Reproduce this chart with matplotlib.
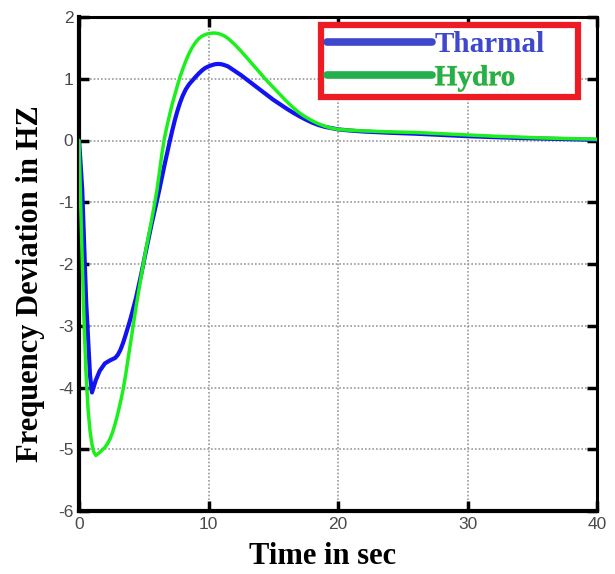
import matplotlib
matplotlib.use("Agg")
import matplotlib.pyplot as plt
from matplotlib.lines import Line2D
import matplotlib.patheffects as pe

plt.rcParams['axes.unicode_minus'] = False

# ---- data ----
time_s = [0, 0.1, 0.25, 0.4, 0.55, 0.7, 0.85, 1.0, 1.15, 1.3, 1.6, 2.0, 2.2,
          2.4, 2.6, 2.8, 3.0, 3.2, 3.4, 3.6, 3.8, 4.0, 4.4, 4.8, 5.2, 5.6, 6.0,
          6.2, 6.4, 6.6, 6.8, 7.0, 7.2, 7.4, 7.6, 7.8, 8.0, 8.25, 8.5, 8.75,
          9.0, 9.25, 9.5, 9.75, 10.0, 10.25, 10.5, 10.75, 11.0, 11.25, 11.5,
          12.0, 12.5, 13.0, 13.5, 14.0, 14.5, 15.0, 15.5, 16.0, 16.5, 17.0,
          17.5, 18.0, 18.5, 19.0, 19.5, 20.0, 21.0, 22.0, 24.0, 26.0, 28.0,
          30.0, 32.0, 34.0, 36.0, 38.0, 40.0]

thermal = [0, -0.3, -0.8, -1.7, -2.6, -3.2, -3.8, -4.08, -3.98, -3.88, -3.73,
           -3.61, -3.585, -3.56, -3.54, -3.52, -3.47, -3.39, -3.28, -3.15,
           -3.01, -2.87, -2.55, -2.17, -1.76, -1.36, -0.99, -0.8, -0.6, -0.4,
           -0.21, -0.02, 0.16, 0.33, 0.48, 0.61, 0.72, 0.83, 0.91, 0.97, 1.03,
           1.085, 1.135, 1.175, 1.20, 1.22, 1.235, 1.24, 1.235, 1.22, 1.20,
           1.13, 1.06, 0.98, 0.90, 0.82, 0.74, 0.66, 0.59, 0.52, 0.455, 0.395,
           0.34, 0.29, 0.25, 0.22, 0.20, 0.18, 0.16, 0.145, 0.125, 0.11, 0.09,
           0.07, 0.055, 0.04, 0.03, 0.02, 0.01]

hydro = [0, -0.8, -1.95, -3.0, -3.8, -4.35, -4.7, -4.92, -5.05, -5.1, -5.05,
         -4.97, -4.91, -4.83, -4.72, -4.58, -4.42, -4.24, -4.04, -3.8, -3.52,
         -3.25, -2.7, -2.2, -1.73, -1.3, -0.83, -0.53, -0.22, 0.04, 0.24, 0.42,
         0.59, 0.74, 0.89, 1.03, 1.15, 1.29, 1.41, 1.51, 1.59, 1.65, 1.69,
         1.715, 1.73, 1.738, 1.74, 1.732, 1.715, 1.69, 1.655, 1.56, 1.45, 1.33,
         1.21, 1.09, 0.97, 0.86, 0.75, 0.64, 0.54, 0.45, 0.38, 0.32, 0.27,
         0.23, 0.20, 0.18, 0.165, 0.155, 0.14, 0.13, 0.11, 0.09, 0.07, 0.055,
         0.04, 0.03, 0.02]

series_names = ["Tharmal", "Hydro"]
x_ticks = [0, 10, 20, 30, 40]
y_ticks = [-6, -5, -4, -3, -2, -1, 0, 1, 2]

W, H = 615, 574
fig = plt.figure(figsize=(W / 100, H / 100), dpi=100)
ax = fig.add_axes([79 / W, 1 - 511 / H, 518 / W, 494 / H])

ax.plot(time_s, thermal, color="#1212f2", lw=3.0, solid_joinstyle="round",
        solid_capstyle="round", zorder=3)
ax.plot(time_s, hydro, color="#1cf01c", lw=2.5, solid_joinstyle="round",
        solid_capstyle="round", zorder=4)

ax.set_xlim(0, 40)
ax.set_ylim(-6, 2)
ax.set_xticks(x_ticks)
ax.set_yticks(y_ticks)
ax.set_xticklabels([str(v) for v in x_ticks])
ax.set_yticklabels([str(v) for v in y_ticks])

for s in ["left", "bottom"]:
    ax.spines[s].set_linewidth(3.0)
for s in ["top", "right"]:
    ax.spines[s].set_linewidth(2.2)
for s in ax.spines.values():
    s.set_color("black")

ax.tick_params(direction="in", length=7.5, width=2.5, top=True, right=True,
               labelsize=12.5, labelcolor="#4a4a4a", pad=4)
for lab in ax.get_xticklabels() + ax.get_yticklabels():
    lab.set_fontfamily("Liberation Sans")

ax.grid(True, color="#9a9a9a", linestyle=(0, (1, 1.2)), linewidth=1.2)
ax.set_axisbelow(True)

ax.set_xlabel("Time in sec", fontfamily="Liberation Serif", fontweight="bold",
              fontsize=22)
ax.xaxis.set_label_coords((323 - 79) / 518, (511 - 557) / 494)
ax.xaxis.label.set_va("center")

ax.set_ylabel("Frequency Deviation in HZ", fontfamily="Liberation Serif",
              fontweight="bold", fontsize=22)
ax.yaxis.set_label_coords((31 - 79) / 518, 1 - (283.5 - 17) / 494)
ax.yaxis.label.set_va("center")

handles = [Line2D([0], [0], color="#3f48cc", lw=5.5, solid_capstyle="round"),
           Line2D([0], [0], color="#22b14c", lw=5.5, solid_capstyle="round")]
x0 = (321 - 79) / 518
x1 = (578 - 79) / 518
ytop = 1 - (25 - 17) / 494
leg = ax.legend(handles, series_names, loc="upper left",
                bbox_to_anchor=(x0, ytop - 0.2, x1 - x0, 0.2), mode="expand",
                borderaxespad=0, borderpad=0.2, labelspacing=0.22,
                handlelength=3.6, handletextpad=0.1, fancybox=False,
                framealpha=1, edgecolor="#ed1c24",
                prop={"family": "Liberation Serif", "weight": "bold", "size": 21},
                labelcolor=["#3f48cc", "#22b14c"])
leg.get_frame().set_linewidth(4.5)
leg.texts[1].set_path_effects([pe.withStroke(linewidth=0.9, foreground="#e2d77a",
                                             alpha=0.6),
                               pe.Normal()])

fig.savefig("out.png", dpi=100, facecolor="white")
